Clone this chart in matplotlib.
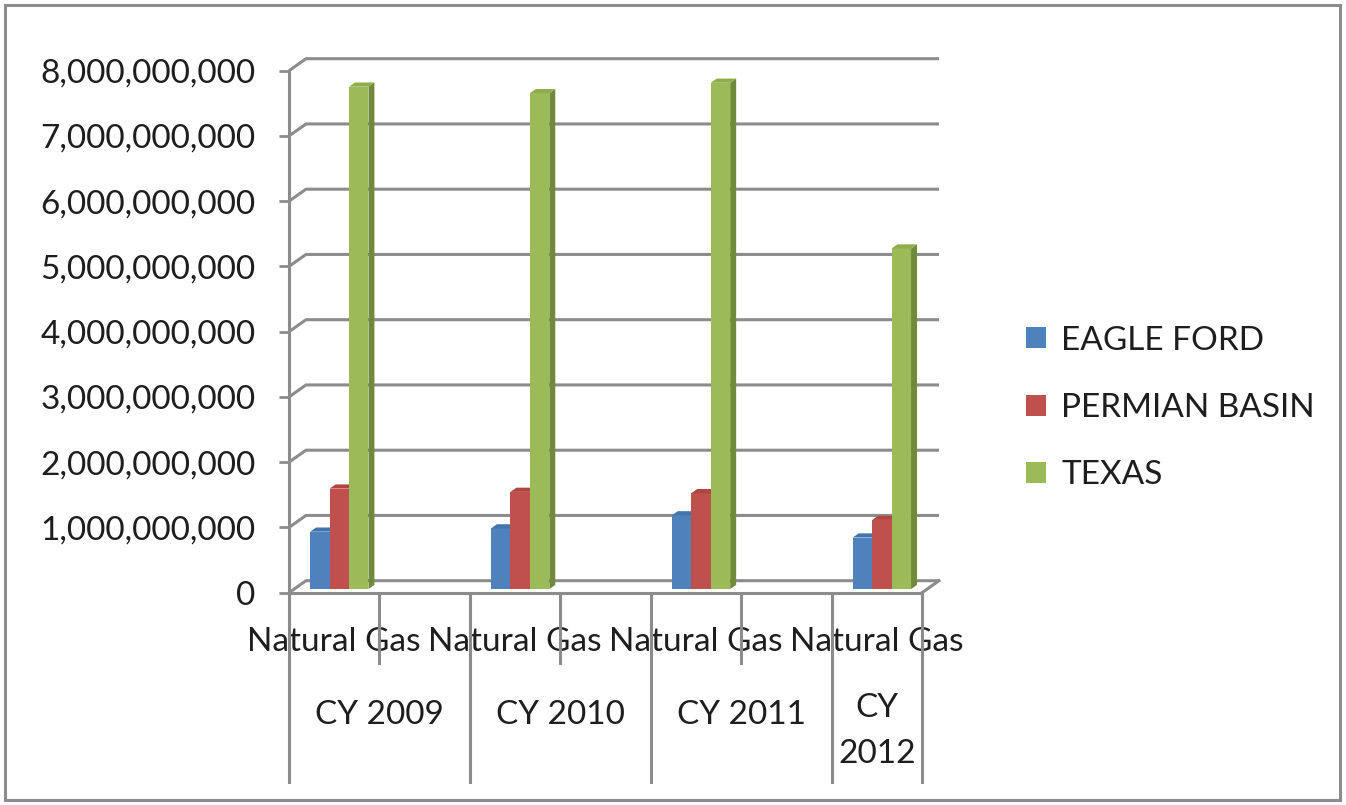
import matplotlib
matplotlib.use("Agg")
import matplotlib.pyplot as plt
import matplotlib.transforms as mtransforms
from matplotlib.patches import Polygon, Patch, Rectangle
from matplotlib.ticker import FuncFormatter

# data
sub_labels = ["Natural Gas", "", "Natural Gas", "", "Natural Gas", "", "Natural Gas"]
years = ["CY 2009", "CY 2010", "CY 2011", "CY\n2012"]
year_spans = [(0, 2), (2, 4), (4, 6), (6, 7)]
bar_slots = [0, 2, 4, 6]

series = ["EAGLE FORD", "PERMIAN BASIN", "TEXAS"]
eagle_ford = [0.88e9, 0.93e9, 1.13e9, 0.79e9]
permian_basin = [1.54e9, 1.49e9, 1.47e9, 1.06e9]
texas = [7.70e9, 7.60e9, 7.76e9, 5.22e9]

front_colors = ["#4F81BD", "#C0504D", "#9BBB59"]
side_colors = ["#35598A", "#8E3835", "#6E8A3A"]
top_colors = ["#4474AE", "#B2453F", "#8EAE4C"]
grid_col = "#8C8C8C"
text_col = "#1E1E1E"

plt.rcParams["font.family"] = ["Lato", "DejaVu Sans"]

W, H = 1346, 805
fig = plt.figure(figsize=(W / 100, H / 100), dpi=100)
fig.patch.set_facecolor("white")

# front plane of the 3-D box
ax_l, ax_top, ax_r, ax_bot = 289, 70.7, 922, 592.7
ax = fig.add_axes([ax_l / W, 1 - ax_bot / H, (ax_r - ax_l) / W, (ax_bot - ax_top) / H])
n_slots = len(sub_labels)
ymax = 8e9
ax.set_xlim(0, n_slots)
ax.set_ylim(0, ymax)
ax.patch.set_alpha(0)

# depth of the box, in pixels -> data units
px_x = n_slots / (ax_r - ax_l)
px_y = ymax / (ax_bot - ax_top)
ddx, ddy = 17 * px_x, 12 * px_y

yticks = [i * 1e9 for i in range(9)]
for v in yticks:
    ax.plot([0, ddx, n_slots + ddx], [v, v + ddy, v + ddy], color=grid_col,
            lw=2.2, clip_on=False, zorder=1, solid_capstyle="butt")
ax.plot([n_slots, n_slots + ddx], [0, ddy], color=grid_col, lw=2.2,
        clip_on=False, zorder=1)

# bars with a bit of 3-D look
w = 0.215
f = 0.3          # position of bar front inside the box depth
bd = 0.35        # bar depth as fraction of box depth
all_vals = [eagle_ford, permian_basin, texas]
for i, vals in enumerate(all_vals):
    xs = [s + 0.5 + (i - 1) * w + f * ddx for s in bar_slots]
    z = 3 + 2 * i
    ax.bar(xs, vals, width=w, bottom=f * ddy, color=front_colors[i],
           linewidth=0, zorder=z + 1, clip_on=False)
    for x, v in zip(xs, vals):
        xl, xr = x - w / 2, x + w / 2
        b, t = f * ddy, f * ddy + v
        side = Polygon([(xr, b), (xr, t), (xr + bd * ddx, t + bd * ddy),
                        (xr + bd * ddx, b + bd * ddy)], closed=True,
                       facecolor=side_colors[i], lw=0, zorder=z, clip_on=False)
        top = Polygon([(xl, t), (xr, t), (xr + bd * ddx, t + bd * ddy),
                       (xl + bd * ddx, t + bd * ddy)], closed=True,
                      facecolor=top_colors[i], lw=0, zorder=z + 1, clip_on=False)
        ax.add_patch(side)
        ax.add_patch(top)

# axes / ticks
for s in ["top", "right"]:
    ax.spines[s].set_visible(False)
for s in ["left", "bottom"]:
    ax.spines[s].set_color(grid_col)
    ax.spines[s].set_linewidth(2.2)
    ax.spines[s].set_zorder(2)
ax.set_yticks(yticks)
ax.yaxis.set_major_formatter(FuncFormatter(lambda v, p: f"{int(v):,}"))
ax.tick_params(axis="y", length=7.2, width=2.0, color=grid_col, pad=17,
               labelsize=24, labelcolor=text_col)
ax.set_xticks([i + 0.5 for i in range(n_slots)], sub_labels)
ax.tick_params(axis="x", length=0, pad=25, labelsize=24, labelcolor=text_col)

# multi-level category separators and year labels
bt = mtransforms.blended_transform_factory(ax.transData, ax.transAxes)
hgt = ax_bot - ax_top
y0 = -2.3 / hgt
for x in [0, 2, 4, 6, 7]:
    ax.plot([x, x], [y0, -(782 - ax_bot) / hgt], transform=bt, color=grid_col,
            lw=2.2, clip_on=False)
for x in [1, 3, 5]:
    ax.plot([x, x], [y0, -(663 - ax_bot) / hgt], transform=bt, color=grid_col,
            lw=2.2, clip_on=False)
for lab, (a, b) in zip(years, year_spans):
    yc = 731 if "\n" in lab else 715
    ax.text((a + b) / 2, -(yc - ax_bot) / hgt, lab, transform=bt, ha="center",
            va="center", fontsize=24, color=text_col, linespacing=1.65)

# legend
handles = [Patch(facecolor=c, edgecolor="none") for c in front_colors]
fig.legend(handles, series, loc="center left",
           bbox_to_anchor=(1026 / W, 1 - 408 / H), frameon=False, fontsize=24,
           handlelength=0.6, handleheight=0.6, handletextpad=0.45,
           labelspacing=1.12, borderpad=0, borderaxespad=0, labelcolor=text_col)

# outer frame
fig.patches.append(Rectangle((5 / W, 5 / H), (1340 - 5) / W, (800 - 5) / H,
                             transform=fig.transFigure, fill=False,
                             edgecolor=grid_col, lw=2.2))

fig.savefig("out.png", dpi=100)
